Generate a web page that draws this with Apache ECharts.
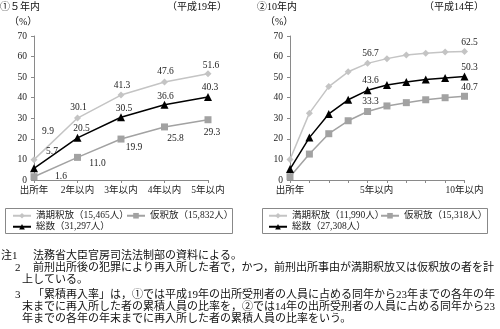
<!DOCTYPE html>
<html>
<head>
<meta charset="utf-8">
<script src="https://cdn.jsdelivr.net/npm/echarts@6/dist/echarts.min.js"></script>
<style>html,body{margin:0;padding:0;background:#fff;}#c{width:500px;height:329px;}</style>
</head>
<body>
<div id="c"></div>
<script>
// ---- data ----
const leftCats = ['出所年', '2年以内', '3年以内', '4年以内', '5年以内'];
const leftExpiry = [9.9, 30.1, 41.3, 47.6, 51.6];
const leftParole = [1.6, 11.0, 19.9, 25.8, 29.3];
const leftTotal = [5.7, 20.5, 30.5, 36.6, 40.3];
const leftNames = ['満期釈放（15,465人）', '仮釈放（15,832人）', '総数（31,297人）'];

const rightCats = ['出所年', '2年以内', '3年以内', '4年以内', '5年以内', '6年以内', '7年以内', '8年以内', '9年以内', '10年以内'];
const rightExpiry = [10.0, 32.5, 45.4, 52.6, 56.7, 59.0, 60.8, 61.6, 62.2, 62.5];
const rightParole = [1.6, 12.6, 22.5, 28.8, 33.3, 36.0, 37.6, 39.0, 40.0, 40.7];
const rightTotal = [5.3, 20.6, 32.1, 39.0, 43.6, 46.2, 47.6, 48.8, 49.6, 50.3];
const rightNames = ['満期釈放（11,990人）', '仮釈放（15,318人）', '総数（27,308人）'];
const rightShownLabels = ['出所年', '5年以内', '10年以内'];

const noteLines = [
  ['注1', '法務省大臣官房司法法制部の資料による。'],
  ['2', '前刑出所後の犯罪により再入所した者で，かつ，前刑出所事由が満期釈放又は仮釈放の者を計'],
  ['', '上している。'],
  ['3', '「累積再入率」は，①では平成19年の出所受刑者の人員に占める同年から23年までの各年の年'],
  ['', '末までに再入所した者の累積人員の比率を，②では14年の出所受刑者の人員に占める同年から23'],
  ['', '年までの各年の年末までに再入所した者の累積人員の比率をいう。']
];

// ---- style ----
const FONT = "'Liberation Serif', 'Noto Sans CJK JP', serif";
const C_EXP = '#c4c4c4', C_PAR = '#a2a2a2', C_TOT = '#000000';
const AX = '#8a8a8a';

// label offsets (style only)
const leftOff = {
  exp: [[14, -28], [1, -11], [1, -10], [1, -11], [3, -8]],
  tot: [[18, -17], [4, -9], [3, -9], [1, -8], [2, -10]],
  par: [[27, 0], [20, 6], [13, 8], [11, 12], [4, 13]]
};
const rightLabelIdx = {4: [3, -10], 9: [5, -9]};

function mkData(arr, offs, idxMap) {
  return arr.map((v, i) => {
    let off = null;
    if (offs) off = offs[i];
    if (idxMap && idxMap[i]) off = idxMap[i];
    if (!off) return v;
    return { value: v, label: { show: true, offset: off } };
  });
}

const baseLabel = {
  show: false, position: 'inside', fontSize: 9.5, fontFamily: FONT, color: '#222',
  textBorderWidth: 0, align: 'center', verticalAlign: 'middle',
  formatter: p => Number(p.value).toFixed(1)
};

function series(name, data, color, symbol, size, idx) {
  return {
    type: 'line', name, data, xAxisIndex: idx, yAxisIndex: idx,
    symbol, symbolSize: size, color,
    lineStyle: { color, width: 1.5 },
    itemStyle: { color },
    label: baseLabel,
    emphasis: { disabled: true },
    animation: false
  };
}

function xAxis(idx, cats, formatter) {
  return {
    type: 'category', gridIndex: idx, data: cats, boundaryGap: false,
    axisLine: { lineStyle: { color: AX, width: 1 } },
    axisTick: { show: true, length: 3, lineStyle: { color: AX } },
    axisLabel: {
      interval: 0, fontSize: 9.5, fontFamily: FONT, color: '#222', margin: 6,
      formatter: formatter,
      rich: { s: { fontSize: 9.5, fontFamily: FONT, color: '#222', padding: [0, 0, 0, 18] } }
    },
    splitLine: { show: false }
  };
}
function yAxis(idx) {
  return {
    type: 'value', gridIndex: idx, min: 0, max: 70, interval: 10,
    axisLine: { show: true, lineStyle: { color: AX, width: 1 } },
    axisTick: { show: true, length: 3, lineStyle: { color: AX } },
    axisLabel: { fontSize: 9.5, fontFamily: FONT, color: '#222', margin: 7 },
    splitLine: { show: false }
  };
}

function legend(name, left, top) {
  return {
    data: [name], left, top, orient: 'horizontal', padding: 0, itemGap: 0,
    itemWidth: 18, itemHeight: 7, selectedMode: false,
    textStyle: { fontSize: 9.5, fontFamily: FONT, color: '#222' }
  };
}

const graphics = [];
function txt(x, y, text, size, align) {
  graphics.push({
    type: 'text', x, y, silent: true,
    style: { text, fontSize: size, fontFamily: FONT, fill: '#111', align: align || 'left', verticalAlign: 'middle' }
  });
}
txt(0, 7, '①５年内', 10);
txt(227, 7, '（平成19年）', 10, 'right');
txt(9, 22, '（%）', 10);
txt(257, 7, '②10年内', 10);
txt(484, 7, '（平成14年）', 10, 'right');
txt(265, 22, '（%）', 10);

graphics.push({ type: 'rect', shape: { x: 5.5, y: 208.5, width: 227, height: 25 }, style: { fill: 'none', stroke: '#888', lineWidth: 1 }, silent: true });
graphics.push({ type: 'rect', shape: { x: 262.5, y: 208.5, width: 225, height: 25 }, style: { fill: 'none', stroke: '#888', lineWidth: 1 }, silent: true });

const noteY = [256, 268, 280, 295, 307, 319];
noteLines.forEach((ln, i) => {
  if (ln[0]) txt(ln[0] === '注1' ? 1 : 15, noteY[i], ln[0], 11);
  txt(ln[0] ? 33 : 22, noteY[i], ln[1], 11);
});

const chart = echarts.init(document.getElementById('c'), null, { renderer: 'canvas' });
chart.setOption({
  animation: false,
  backgroundColor: '#fff',
  grid: [
    { left: 34, top: 36, width: 174, height: 144 },
    { left: 290, top: 36, width: 174.5, height: 144 }
  ],
  xAxis: [
    xAxis(0, leftCats, v => v),
    xAxis(1, rightCats, v => rightShownLabels.indexOf(v) < 0 ? '' : (v === '5年以内' ? '{s|' + v + '}' : v))
  ],
  yAxis: [yAxis(0), yAxis(1)],
  legend: [
    legend(leftNames[0], 12, 211),
    legend(leftNames[1], 126, 211),
    legend(leftNames[2], 12, 222),
    legend(rightNames[0], 268, 211),
    legend(rightNames[1], 380, 211),
    legend(rightNames[2], 268, 222)
  ],
  series: [
    series(leftNames[0], mkData(leftExpiry, leftOff.exp), C_EXP, 'diamond', 7, 0),
    series(leftNames[1], mkData(leftParole, leftOff.par), C_PAR, 'rect', 7, 0),
    series(leftNames[2], mkData(leftTotal, leftOff.tot), C_TOT, 'triangle', 8, 0),
    series(rightNames[0], mkData(rightExpiry, null, rightLabelIdx), C_EXP, 'diamond', 7, 1),
    series(rightNames[1], mkData(rightParole, null, rightLabelIdx), C_PAR, 'rect', 7, 1),
    series(rightNames[2], mkData(rightTotal, null, rightLabelIdx), C_TOT, 'triangle', 8, 1)
  ],
  graphic: graphics
});
</script>
</body>
</html>
